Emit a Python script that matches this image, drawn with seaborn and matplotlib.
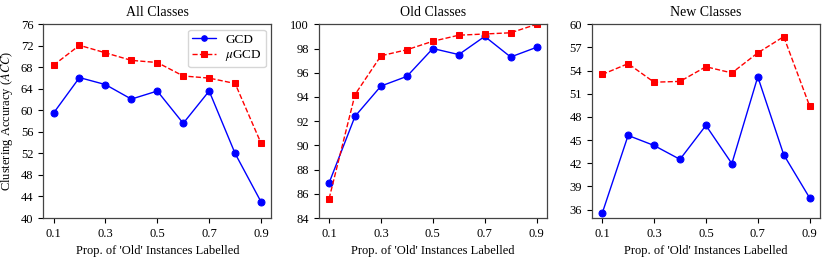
import matplotlib
matplotlib.use('Agg')

import seaborn as sns
import matplotlib.pyplot as plt

props = [0.1, 0.2, 0.3, 0.4, 0.5, 0.6, 0.7, 0.8, 0.9]

all_gcd = [59.5, 66.1, 64.8, 62.1, 63.6, 57.6, 63.6, 52.0, 43.0]
all_mugcd = [68.4, 72.1, 70.7, 69.3, 68.9, 66.4, 66.0, 65.0, 53.9]

old_gcd = [86.9, 92.4, 94.9, 95.7, 98.0, 97.5, 99.0, 97.3, 98.1]
old_mugcd = [85.6, 94.2, 97.4, 97.9, 98.6, 99.1, 99.2, 99.3, 100.0]

new_gcd = [35.5, 45.6, 44.3, 42.5, 46.9, 41.95, 53.2, 43.1, 37.5]
new_mugcd = [53.5, 54.9, 52.5, 52.6, 54.5, 53.7, 56.3, 58.4, 49.4]

titles = ['All Classes', 'Old Classes', 'New Classes']
xticks = [0.1, 0.3, 0.5, 0.7, 0.9]
yticks = [list(range(40, 77, 4)), list(range(84, 101, 2)), list(range(36, 61, 3))]
ylims = [(40, 76), (84, 100), (34.9, 60)]

sns.set_style('ticks')
plt.rcParams['font.family'] = ['Liberation Serif', 'DejaVu Serif']
plt.rcParams['mathtext.fontset'] = 'stix'
plt.rcParams['font.size'] = 9
plt.rcParams['text.color'] = 'black'
plt.rcParams['axes.labelcolor'] = 'black'
plt.rcParams['xtick.color'] = 'black'
plt.rcParams['ytick.color'] = 'black'

fig = plt.figure(figsize=(8.3, 2.6), dpi=100)
lefts = [0.052, 0.384, 0.713]
axes = [fig.add_axes([l, 0.1615, 0.275, 0.745]) for l in lefts]

panels = [(all_gcd, all_mugcd), (old_gcd, old_mugcd), (new_gcd, new_mugcd)]
for i, (ax, (gcd, mugcd)) in enumerate(zip(axes, panels)):
    sns.lineplot(x=props, y=gcd, ax=ax, color='blue', marker='o', markersize=5,
                 markeredgecolor='blue', linewidth=1, label='GCD')
    sns.lineplot(x=props, y=mugcd, ax=ax, color='red', marker='s', markersize=5,
                 markeredgecolor='red', linewidth=1, linestyle='--', label=r'$\mu$GCD')
    ax.set_title(titles[i], fontsize=10)
    ax.set_xticks(xticks)
    ax.set_xticklabels([str(t) for t in xticks])
    ax.set_yticks(yticks[i])
    ax.set_ylim(*ylims[i])
    ax.set_xlabel("Prop. of 'Old' Instances Labelled", fontsize=9)
    ax.tick_params(labelsize=9, length=3.5, width=0.8)
    for sp in ax.spines.values():
        sp.set_visible(True)
        sp.set_linewidth(0.9)
        sp.set_color('#444444')
    if i == 0:
        ax.set_ylabel(r'Clustering Accuracy ($ACC$)', fontsize=9)
        ax.legend(loc='upper right', prop={'family': 'Liberation Serif', 'size': 9.5},
                  frameon=True, fancybox=True, handlelength=1.8, handletextpad=0.7,
                  markerscale=0.8, borderpad=0.3, labelspacing=0.2, borderaxespad=0.4)
    else:
        ax.get_legend().remove()

plt.savefig('out.png', dpi=100)
plt.close()
